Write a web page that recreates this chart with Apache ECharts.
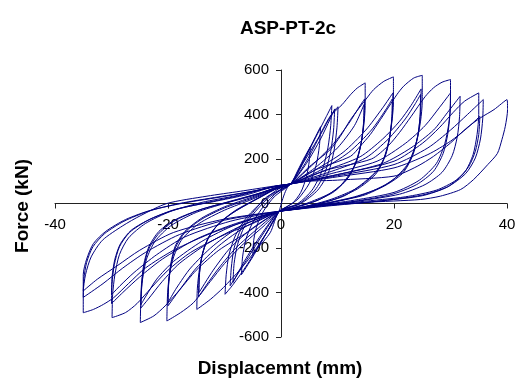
<!DOCTYPE html>
<html>
<head>
<meta charset="utf-8">
<script src="https://cdn.jsdelivr.net/npm/echarts@6/dist/echarts.min.js"></script>
<style>html,body{margin:0;padding:0;background:#fff}#c{width:520px;height:380px}</style>
</head>
<body>
<div id="c"></div>
<script>
// Chart texts
var chartTitle = 'ASP-PT-2c';
var xTitle = 'Displacemnt (mm)';
var yTitle = 'Force (kN)';
var xTicks = [-40, -20, 0, 20, 40];
var yTicks = [-600, -400, -200, 0, 200, 400, 600];

// Hysteresis trace, cycle by cycle: [displacement (mm), force (kN)]
var c5 = [[-0.3,-35],[-2,-110],[-3.8,-180],[-5,-225],[-4.8,-160],[-4.2,-95],[-3,-30],[-1.2,30],[1.7,88],[3,150],[4.2,210],[5.2,255],[5,190],[4.5,120],[3.5,50],[2,0],[-0.3,-35]];
var c7 = [[-0.3,-35],[-2.5,-130],[-5,-240],[-7,-320],[-6.8,-240],[-6.2,-160],[-5,-85],[-3,-10],[-0.5,55],[1.7,88],[3.5,170],[5.5,270],[7,345],[6.8,260],[6.2,170],[5,90],[3,20],[1,-15],[-0.3,-35]];
var c10a = [[-0.3,-35],[-3,-150],[-6,-275],[-8.5,-365],[-9.9,-408],[-9.7,-320],[-9.2,-230],[-8,-140],[-6,-60],[-3,15],[-0.5,65],[1.7,88],[4,190],[6,290],[8,390],[9,440],[8.8,350],[8.3,250],[7.3,150],[5.5,60],[3,0],[-0.3,-35]];
var c10b = [[-0.3,-35],[-3,-130],[-6,-250],[-9,-370],[-8.8,-290],[-8.3,-200],[-7,-110],[-5,-40],[-2.5,30],[1.7,88],[4.5,190],[7,310],[9.2,410],[10.1,435],[9.9,340],[9.4,240],[8.4,140],[6.5,60],[3.5,0],[-0.3,-35]];
var c10c = [[-0.3,-35],[-3.5,-140],[-6.5,-260],[-8.5,-355],[-8.3,-270],[-7.7,-185],[-6.5,-105],[-4.5,-35],[-2,30],[1.7,88],[4.5,180],[7,290],[8.7,380],[9.5,425],[9.3,330],[8.8,235],[7.8,140],[6,60],[3,-5],[-0.3,-35]];
var c15a = [[-0.3,-35],[-1.9,-131],[-4.3,-206],[-7.2,-296],[-10.2,-378],[-12.5,-431],[-14.9,-476],[-14.8,-380],[-14.4,-290],[-13.6,-200],[-12,-120],[-9,-50],[-5,10],[-1.5,60],[1.7,88],[4,185],[6.5,290],[8.7,392],[10.8,444],[12.3,489],[13.5,519],[14.9,542],[14.9,440],[14.6,340],[14,250],[12.8,160],[10.5,80],[7,20],[3,-15],[-0.3,-35]];
var c15b = [[-0.3,-35],[-4,-110],[-8,-200],[-11,-290],[-13.3,-370],[-14.6,-420],[-14.5,-330],[-14,-240],[-13,-160],[-11,-90],[-8,-30],[-4,25],[-1,65],[1.7,88],[5,160],[9,260],[12,360],[14,440],[14.8,470],[14.7,380],[14.3,290],[13.5,200],[12,120],[9.5,55],[6,10],[2,-20],[-0.3,-35]];
var c15c = [[-0.3,-35],[-5,-110],[-9,-200],[-12,-300],[-14.5,-400],[-14.4,-310],[-13.9,-225],[-12.8,-150],[-10.8,-85],[-7.5,-25],[-3.5,30],[-0.5,70],[1.7,88],[6,160],[10,250],[13,350],[14.7,445],[14.6,360],[14.2,270],[13.3,185],[11.7,110],[9,50],[5,5],[1.5,-25],[-0.3,-35]];
var c20a = [[-0.3,-35],[-3,-100],[-7,-190],[-10,-270],[-12.5,-350],[-15.5,-446],[-17.8,-491],[-20.2,-528],[-20.1,-420],[-19.8,-330],[-19,-240],[-17.5,-160],[-14.5,-90],[-10,-30],[-5,20],[-1,65],[1.7,88],[5,165],[8.7,242],[10.5,302],[12.3,377],[15.2,474],[16.4,512],[18.2,549],[19.9,569],[19.9,452],[19.6,362],[19,272],[17.6,167],[14.6,93],[11.1,33],[6,-5],[2,-25],[-0.3,-35]];
var c20b = [[-0.3,-35],[-6,-100],[-11,-190],[-15,-290],[-18,-390],[-20,-460],[-19.9,-370],[-19.5,-280],[-18.7,-200],[-17,-130],[-14,-70],[-10,-20],[-5,25],[-1,68],[1.7,88],[6,150],[11,230],[15,330],[18,430],[19.8,497],[19.7,400],[19.3,310],[18.5,220],[16.8,140],[13.5,70],[9,20],[4,-15],[-0.3,-35]];
var c20c = [[-0.3,-35],[-7,-100],[-12,-190],[-16,-290],[-18.5,-380],[-20,-445],[-19.9,-360],[-19.5,-270],[-18.7,-190],[-17,-125],[-14,-65],[-10,-15],[-5,30],[-1,70],[1.7,88],[7,150],[12,230],[16,330],[18.5,420],[19.7,470],[19.6,380],[19.2,290],[18.4,210],[16.7,130],[13.5,65],[9,15],[4,-15],[-0.3,-35]];
var c25a = [[-0.3,-35],[-6,-130],[-11,-210],[-15,-300],[-18,-390],[-20.5,-460],[-22.5,-505],[-24.9,-535],[-24.8,-430],[-24.5,-340],[-23.8,-250],[-22.3,-170],[-19.5,-100],[-15,-40],[-10,0],[-5,35],[-1,70],[1.7,88],[6,150],[12.3,212],[14,257],[15.8,310],[17.6,377],[20.5,489],[21.7,527],[23.5,564],[25,576],[25,460],[24.7,370],[24,280],[22.5,180],[19.5,100],[15,40],[9,5],[3,-25],[-0.3,-35]];
var c25b = [[-0.3,-35],[-7,-100],[-13,-180],[-18,-270],[-21,-350],[-23.5,-430],[-24.8,-470],[-24.7,-380],[-24.3,-290],[-23.5,-210],[-21.8,-140],[-19,-80],[-14.5,-30],[-9,10],[-4,45],[-0.5,75],[1.7,88],[8,150],[14,210],[18,290],[21,370],[23,440],[24.8,515],[24.7,410],[24.3,320],[23.5,235],[21.8,150],[18.5,85],[14,35],[8,0],[3,-22],[-0.3,-35]];
var c25c = [[-0.3,-35],[-8,-95],[-14,-170],[-19,-260],[-22,-340],[-24,-420],[-24.8,-455],[-24.7,-365],[-24.3,-275],[-23.4,-195],[-21.6,-125],[-18.5,-70],[-14,-25],[-8.5,12],[-3.5,48],[1.7,88],[9,145],[15,205],[19,290],[22,380],[23.8,450],[24.7,490],[24.6,390],[24.2,300],[23.3,215],[21.5,135],[18,75],[13,30],[7,-3],[2,-27],[-0.3,-35]];
var c30a = [[-0.3,-35],[-5,-90],[-10,-140],[-16,-220],[-20,-300],[-23,-380],[-25.5,-450],[-27.5,-490],[-29.9,-513],[-29.8,-410],[-29.4,-320],[-28.6,-230],[-27,-155],[-24,-90],[-19.5,-35],[-14,5],[-8,35],[-2,72],[1.7,88],[8,150],[16,200],[19,260],[21,320],[23,390],[25.5,480],[27,520],[28.5,545],[30,557],[30,450],[29.7,360],[29,270],[27.5,180],[24.5,105],[20,50],[13,15],[6,-10],[-0.3,-35]];
var c30b = [[-0.3,-35],[-8,-90],[-15,-160],[-21,-250],[-25,-330],[-28,-400],[-30,-450],[-29.9,-360],[-29.5,-275],[-28.6,-195],[-26.8,-130],[-23.5,-75],[-19,-30],[-13,5],[-7,38],[-1.5,75],[1.7,88],[9,135],[17,190],[22,270],[25.5,350],[28,430],[30,497],[29.9,400],[29.5,310],[28.7,225],[27,145],[24,85],[19.5,40],[13,10],[6,-12],[-0.3,-35]];
var c30c = [[-0.3,-35],[-9,-80],[-17,-150],[-22,-230],[-26,-310],[-28.5,-370],[-30,-410],[-29.9,-330],[-29.4,-250],[-28.4,-180],[-26.5,-120],[-23,-68],[-18.5,-25],[-12,8],[-6,40],[-1,78],[1.7,88],[10,130],[18,180],[23,250],[27,330],[29.5,410],[31.7,482],[31.6,390],[31.2,300],[30.3,215],[28.5,140],[25.5,85],[21,42],[14,12],[6,-13],[-0.3,-35]];
var c35a = [[-0.3,-35],[-5,-70],[-12,-130],[-19,-210],[-24,-290],[-27,-360],[-29.6,-423],[-31.4,-453],[-33.2,-476],[-35,-491],[-35,-400],[-34.6,-320],[-33.6,-240],[-31.6,-165],[-28,-100],[-24.9,-55],[-20.2,0],[-13.1,33],[-7.2,55],[-1.3,78],[1.7,88],[10,130],[20,190],[25,270],[28,340],[30.5,410],[32.5,460],[35,497],[35,400],[34.7,310],[34,220],[32.5,140],[29.5,75],[25,35],[17,10],[8,-10],[-0.3,-35]];
var c35b = [[-0.3,-35],[-10,-75],[-18,-140],[-24,-220],[-28,-290],[-31.5,-360],[-35,-422],[-34.9,-340],[-34.4,-265],[-33.3,-195],[-31.2,-135],[-27.8,-80],[-23.5,-35],[-18,0],[-11,30],[-5,55],[-0.5,80],[1.7,88],[10,125],[20,175],[26,250],[30,330],[33,400],[35.8,467],[35.7,380],[35.3,290],[34.4,205],[32.7,135],[29.5,75],[25,38],[17,10],[8,-12],[-0.3,-35]];
var c35c = [[-0.3,-35],[-10,-70],[-19,-130],[-25,-210],[-29,-280],[-32.5,-340],[-35,-393],[-35,-320],[-34.4,-250],[-33.2,-180],[-31,-125],[-27.5,-72],[-23,-30],[-17,3],[-10,32],[-4,60],[1.7,88],[10,120],[20,160],[26,220],[30,280],[33,340],[35.2,392],[35,310],[34.4,235],[33.2,165],[31,105],[27.5,60],[22,30],[14,8],[6,-14],[-0.3,-35]];
var c40 = [[1.7,88],[10,105],[20,123],[24.1,167],[27,212],[30,272],[32.9,340],[35.3,385],[37.7,422],[40,467],[40.1,422],[39.7,347],[39.1,287],[38.3,225],[36.6,175],[34.1,108],[31.8,63],[28.2,33],[24.7,18],[15,5],[6,-12],[-0.3,-35]];

var cycles = [c5, c7, c10a, c10b, c10c, c15a, c15b, c15c, c20a, c20b, c20c, c25a, c25b, c25c, c30a, c30b, c30c, c35a, c35b, c35c, c40];
var trace = [];
cycles.forEach(function (c) { trace = trace.concat(c); });

var FONT = '"Liberation Sans", Arial, sans-serif';
var GL = 55, GR = 13, GT = 70, GB = 43, W = 520, H = 380;
var gw = W - GL - GR, gh = H - GT - GB;
var chart = echarts.init(document.getElementById('c'), null, {renderer: 'canvas'});
chart.setOption({
  animation: false,
  backgroundColor: '#ffffff',
  graphic: [
    {type: 'text', x: 288, y: 29, style: {text: chartTitle, font: 'bold 19px ' + FONT, fill: '#000', textAlign: 'center', textVerticalAlign: 'middle'}},
    {type: 'text', x: 280, y: 369, style: {text: xTitle, font: 'bold 19px ' + FONT, fill: '#000', textAlign: 'center', textVerticalAlign: 'middle'}},
    {type: 'text', x: 23, y: 206, rotation: Math.PI / 2, style: {text: yTitle, font: 'bold 19px ' + FONT, fill: '#000', textAlign: 'center', textVerticalAlign: 'middle'}}
  ],
  grid: {left: GL, right: GR, top: GT, bottom: GB, containLabel: false},
  xAxis: {
    type: 'value', min: xTicks[0], max: xTicks[xTicks.length - 1], interval: 20,
    position: 'bottom', offset: -gh / 2,
    axisLine: {onZero: false, lineStyle: {color: '#222', width: 1}},
    axisTick: {show: true, length: 5, lineStyle: {color: '#222'}},
    axisLabel: {margin: 14, fontFamily: FONT, fontSize: 15, color: '#000'},
    splitLine: {show: false}
  },
  yAxis: {
    type: 'value', min: yTicks[0], max: yTicks[yTicks.length - 1], interval: 200,
    position: 'left', offset: -gw / 2,
    axisLine: {onZero: false, lineStyle: {color: '#222', width: 1}},
    axisTick: {show: true, length: 5, lineStyle: {color: '#222'}},
    axisLabel: {margin: 12, fontFamily: FONT, fontSize: 15, color: '#000'},
    splitLine: {show: false}
  },
  series: [{
    type: 'line', data: trace, showSymbol: false, smooth: 0.25,
    lineStyle: {color: '#000080', width: 1}, z: 1
  }]
});
</script>
</body>
</html>
